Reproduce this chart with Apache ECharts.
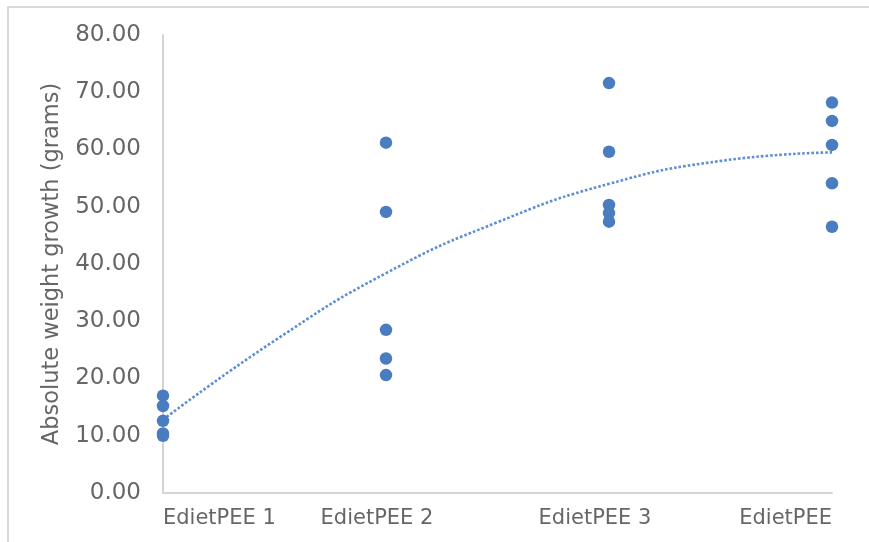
<!DOCTYPE html>
<html>
<head>
<meta charset="utf-8">
<script src="https://cdn.jsdelivr.net/npm/echarts@6/dist/echarts.min.js"></script>
<style>
html,body{margin:0;padding:0;background:#fff;}
#chart{width:869px;height:542px;}
</style>
</head>
<body>
<div id="chart"></div>
<script>
// Category labels placed at x = 1..4
const categories = ["EdietPEE 1", "EdietPEE 2", "EdietPEE 3", "EdietPEE"];
const group1 = [17.0, 15.2, 12.6, 10.4, 10.0];
const group2 = [61.2, 49.1, 28.5, 23.5, 20.6];
const group3 = [71.6, 59.6, 50.3, 48.9, 47.4];
const group4 = [68.2, 65.0, 60.8, 54.1, 46.5];
// Polynomial trendline values
const trendX = [1, 1.5, 2, 2.5, 3, 3.5, 4];
const trendY = [12.8, 26.6, 38.4, 47.3, 54.0, 58.0, 59.5];
const yTicks = [0, 10, 20, 30, 40, 50, 60, 70, 80];

const groups = [group1, group2, group3, group4];
const scatterData = [];
groups.forEach((g, i) => g.forEach(v => scatterData.push([i + 1, v])));
const trendData = trendX.map((x, i) => [x, trendY[i]]);

const chart = echarts.init(document.getElementById('chart'), null, {renderer: 'canvas'});
const FONT = '"DejaVu Sans", Verdana, sans-serif';
chart.setOption({
  animation: false,
  backgroundColor: '#ffffff',
  graphic: [
    {type: 'line', shape: {x1: 7, y1: 7, x2: 869, y2: 7}, style: {stroke: '#d9d9d9', lineWidth: 2}},
    {type: 'line', shape: {x1: 8, y1: 7, x2: 8, y2: 542}, style: {stroke: '#d9d9d9', lineWidth: 2}}
  ],
  grid: {left: 163, right: 37, top: 35, bottom: 49, containLabel: false},
  xAxis: {
    type: 'value',
    min: 1, max: 4, interval: 1,
    splitLine: {show: false},
    axisTick: {show: false},
    axisLine: {lineStyle: {color: '#d4d4d4', width: 2}},
    axisLabel: {
      margin: 15,
      fontFamily: FONT, fontSize: 21, color: '#666666',
      alignMinLabel: 'left', alignMaxLabel: 'right',
      formatter: function (v) {
        const i = Math.round(v) - 1;
        const t = categories[i] || '';
        if (i === 0) return '{a|' + t + '}';
        if (i === 1) return '{b|' + t + '}';
        if (i === 2) return '{c|' + t + '}';
        return t;
      },
      rich: {
        a: {fontFamily: FONT, fontSize: 21, color: '#666666'},
        b: {fontFamily: FONT, fontSize: 21, color: '#666666', padding: [0, 18, 0, 0]},
        c: {fontFamily: FONT, fontSize: 21, color: '#666666', padding: [0, 28, 0, 0]}
      }
    }
  },
  yAxis: {
    type: 'value',
    min: yTicks[0], max: yTicks[yTicks.length - 1], interval: yTicks[1] - yTicks[0],
    name: 'Absolute weight growth (grams)',
    nameLocation: 'middle',
    nameGap: 99,
    nameTextStyle: {fontFamily: FONT, fontSize: 22.5, color: '#666666'},
    splitLine: {show: false},
    axisTick: {show: false},
    axisLine: {show: true, lineStyle: {color: '#d4d4d4', width: 2}},
    axisLabel: {
      margin: 22,
      fontFamily: FONT, fontSize: 23, color: '#666666',
      formatter: v => v.toFixed(2)
    }
  },
  series: [
    {
      type: 'line',
      data: trendData,
      smooth: 0.5,
      showSymbol: false,
      symbol: 'none',
      lineStyle: {color: '#5b8fd2', width: 2.6, type: [2.6, 2]},
      z: 2
    },
    {
      type: 'scatter',
      data: scatterData,
      symbol: 'circle',
      symbolSize: 12.5,
      itemStyle: {color: '#4a7dbf', opacity: 1},
      z: 3
    }
  ]
});
</script>
</body>
</html>
